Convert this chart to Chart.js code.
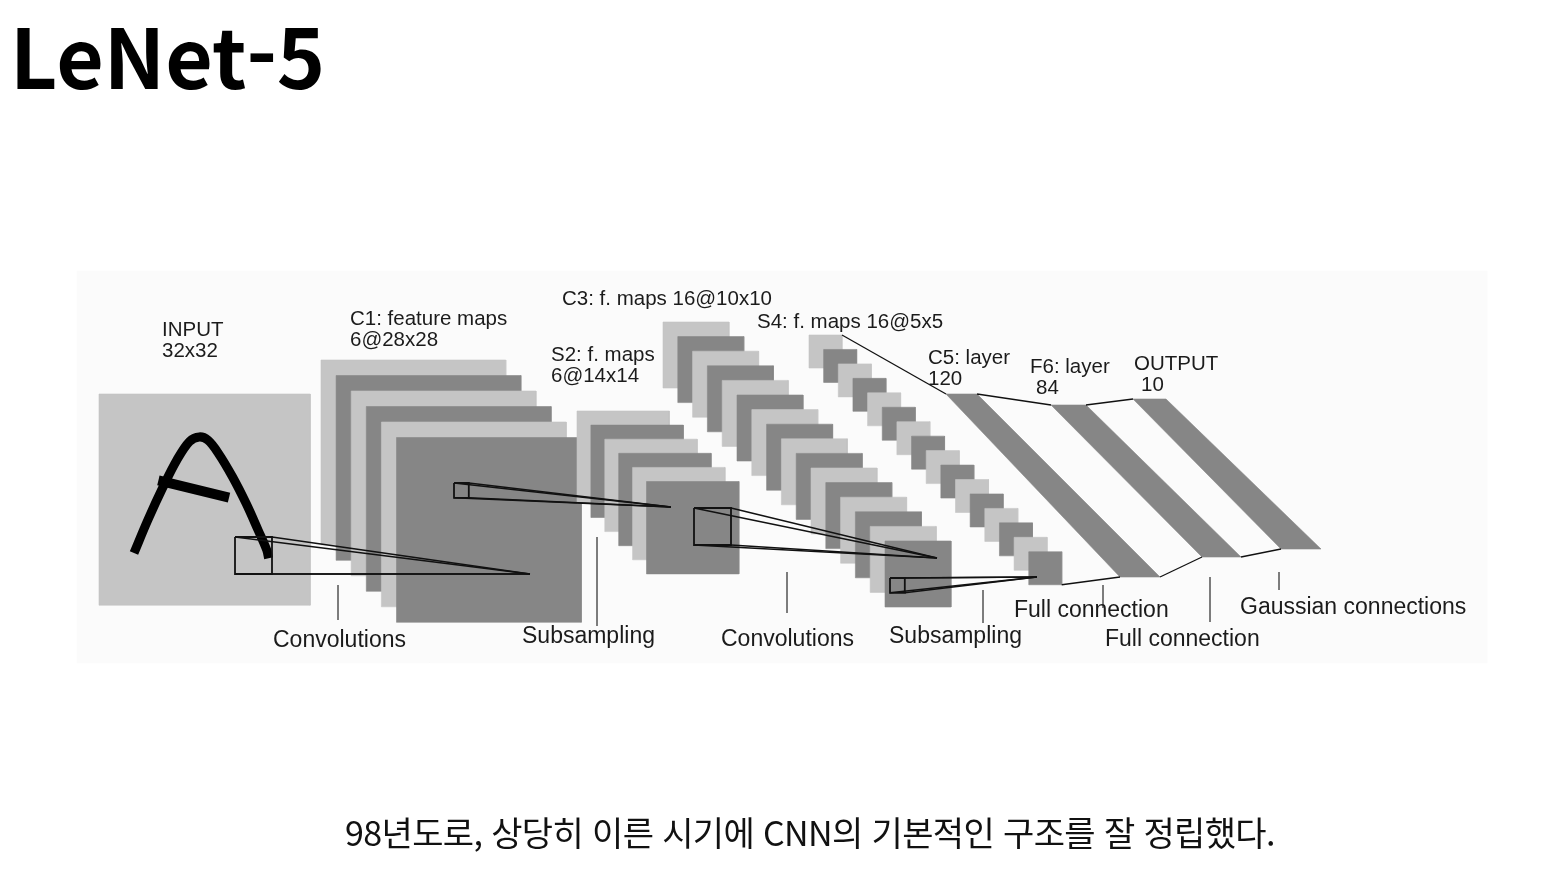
<!DOCTYPE html>
<html lang="ko">
<head>
<meta charset="UTF-8">
<meta name="viewport" content="width=device-width, initial-scale=1.0">
<title>LeNet-5</title>
<style>
    html, body { margin: 0; padding: 0; background: #fff; }
    body { width: 1566px; height: 882px; position: relative; overflow: hidden; }
    #lenet { position: absolute; left: 0; top: 0; }
    h1 { position: absolute; left: 10px; top: 13px; margin: 0; color: #000;
         font: 700 82px/82px "Noto Sans CJK KR", "Noto Sans", sans-serif; white-space: nowrap; }
    .caption { position: absolute; left: 345px; top: 815px; margin: 0; color: #111;
         font: 400 34px/34px "Noto Sans CJK KR", sans-serif; white-space: nowrap;
         font-feature-settings: "palt"; }
</style>
</head>
<body>

    <h1>LeNet-5</h1>
    <canvas id="lenet" width="1566" height="882"></canvas>
    <p class="caption" id="caption">98년도로, 상당히 이른 시기에 CNN의 기본적인 구조를 잘 정립했다.</p>

    <script src="https://cdn.jsdelivr.net/npm/chart.js@4.4.1/dist/chart.umd.min.js"></script>
    <script>

        // what the figure says
        const layerNames  = ['INPUT', 'C1: feature maps', 'S2: f. maps', 'C3: f. maps 16@10x10', 'S4: f. maps 16@5x5', 'C5: layer', 'F6: layer', 'OUTPUT'];
        const layerShapes = ['32x32', '6@28x28', '6@14x14', '', '', '120', '84', '10'];
        const mapCounts   = [1, 6, 6, 16, 16];
        const mapSides    = [32, 28, 14, 10, 5];
        const kernelSides = [5, 2, 5, 2];
        const connLabels  = ['Convolutions', 'Subsampling', 'Convolutions', 'Subsampling', 'Full connection', 'Full connection', 'Gaussian connections'];

        // the hand written "A" on the input, in input pixels (0..32)
        const strokeX = [5.3, 7.4, 9.7, 11.8, 13.7, 15.2, 16.5, 18.1, 20.2, 22.3, 24.1, 25.4, 25.7];
        const strokeY = [24.1, 19.1, 14.1, 10.0, 7.2, 6.5, 7.0, 9.0, 12.5, 16.6, 20.6, 23.6, 24.9];
        const barX = [9.0, 19.7];
        const barY = [13.1, 15.7];

        // layout (screen px, the axes run 0..1566 / 0..882)
        const PX = 6.6;    // px per feature map pixel
        const KPX = 7.4;   // px per kernel pixel
        const LIGHT = '#c5c5c5', DARK = '#868686', INK = '#111111', TICK = '#6a6a6a';
        const panel = [77, 271, 1487, 663];
        const stackOrigin = [[99, 394], [321, 360], [577, 411], [663, 322], [809, 335]];
        const stackStep   = [[0, 0], [15.1, 15.5], [13.9, 14.1], [14.8, 14.6], [14.65, 14.45]];
        const bandTop     = [[946, 977, 394], [1051, 1086, 405], [1133, 1166, 399]];
        const bandBottom  = [[1120, 1160, 577], [1202, 1241, 557], [1281, 1321, 549]];
        const fieldAt     = [[235, 537], [454, 483], [694, 508], [890, 578]];
        const fieldApex   = [[530, 574], [671, 507], [937, 558], [1037, 577]];
        const tickAt      = [[338, 585, 620], [597, 537, 626], [787, 572, 613], [983, 590, 623], [1103, 585, 608], [1210, 577, 622], [1279, 572, 590]];
        const connTextAt  = [[273, 647], [522, 643], [721, 646], [889, 643], [1014, 617], [1105, 646], [1240, 614]];
        const nameTextAt  = [[162, 336], [350, 325], [551, 361], [562, 305], [757, 328], [928, 364], [1030, 373], [1134, 370]];
        const shapeIndent = [0, 0, 0, 0, 0, 0, 6, 7];

        let datasets = [];
        function add(points, opts) {
            datasets.push(Object.assign({
                data: points.map(p => ({x: p[0], y: p[1]})),
                borderColor: INK, borderWidth: 1.5, pointRadius: 0, tension: 0,
                fill: false, clip: false, order: -datasets.length
            }, opts || {}));
        }
        function rect(x, y, w, h) { return [[x, y], [x + w, y], [x + w, y + h], [x, y + h], [x, y]]; }
        function shade(pts, color) { add(pts, {fill: 'shape', backgroundColor: color, borderColor: color, borderWidth: 0.6}); }

        // backdrop of the figure
        shade(rect(panel[0], panel[1], panel[2] - panel[0], panel[3] - panel[1]), '#fbfbfb');

        // feature map stacks, back to front
        function mapRect(l, k) {
            const s = mapSides[l] * PX;
            return [stackOrigin[l][0] + k * stackStep[l][0], stackOrigin[l][1] + k * stackStep[l][1], s];
        }
        mapCounts.forEach((n, l) => {
            for (let k = 0; k < n; k++) {
                const [x, y, s] = mapRect(l, k);
                shade(rect(x, y, s, s), (l > 0 && k % 2) ? DARK : LIGHT);
            }
            if (l === 0) {
                const [x0, y0] = stackOrigin[0];
                add(strokeX.map((v, i) => [x0 + v * PX, y0 + strokeY[i] * PX]), {borderColor: '#000', borderWidth: 9, tension: 0.35, borderCapStyle: 'butt', borderJoinStyle: 'round'});
                add(barX.map((v, i) => [x0 + v * PX, y0 + barY[i] * PX]), {borderColor: '#000', borderWidth: 10, borderCapStyle: 'butt'});
            }
        });

        // fully connected layers
        bandTop.forEach((t, i) => {
            const b = bandBottom[i];
            shade([[t[0], t[2]], [t[1], t[2]], [b[1], b[2]], [b[0], b[2]], [t[0], t[2]]], DARK);
        });

        // connectors between the last maps and the layers
        const s4 = mapCounts.length - 1;
        const [bx, by, bs] = mapRect(s4, 0);
        const [fx, fy, fs] = mapRect(s4, mapCounts[s4] - 1);
        add([[bx + bs, by], [bandTop[0][0], bandTop[0][2]]], {borderWidth: 1.3});
        add([[fx + fs, fy + fs], [bandBottom[0][0], bandBottom[0][2]]], {borderWidth: 1.3});
        for (let i = 0; i < bandTop.length - 1; i++) {
            add([[bandTop[i][1], bandTop[i][2]], [bandTop[i + 1][0], bandTop[i + 1][2]]], {borderWidth: 1.3});
            add([[bandBottom[i][1], bandBottom[i][2]], [bandBottom[i + 1][0], bandBottom[i + 1][2]]], {borderWidth: 1.3});
        }

        // receptive fields: a kernel box and its projection onto the next layer
        kernelSides.forEach((k, i) => {
            const [x, y] = fieldAt[i];
            const s = k * KPX;
            const [ax, ay] = fieldApex[i];
            [[x, y], [x + s, y], [x + s, y + s], [x, y + s]].forEach(c => add([c, [ax, ay]], {borderWidth: 1.4}));
            add(rect(x, y, s, s), {borderWidth: 1.8});
        });

        // little ticks under the connection names
        tickAt.forEach(t => add([[t[0], t[1]], [t[0], t[2]]], {borderColor: TICK, borderWidth: 1}));

        const textPlugin = {
            id: 'figureText',
            afterDatasetsDraw(chart) {
                const {ctx, scales: {x, y}} = chart;
                ctx.save();
                ctx.fillStyle = '#1b1b1b';
                ctx.textBaseline = 'alphabetic';
                ctx.font = '20.5px "Liberation Sans", Arial, sans-serif';
                layerNames.forEach((name, i) => {
                    const [tx, ty] = nameTextAt[i];
                    ctx.fillText(name, x.getPixelForValue(tx), y.getPixelForValue(ty));
                    if (layerShapes[i]) ctx.fillText(layerShapes[i], x.getPixelForValue(tx + shapeIndent[i]), y.getPixelForValue(ty + 21));
                });
                ctx.font = '23px "Liberation Sans", Arial, sans-serif';
                connLabels.forEach((c, i) => {
                    ctx.fillText(c, x.getPixelForValue(connTextAt[i][0]), y.getPixelForValue(connTextAt[i][1]));
                });
                ctx.restore();
            }
        };

        var ctx = document.getElementById('lenet').getContext('2d');
        var lenet = new Chart(ctx, {
            type: 'line',
            data: {datasets: datasets},
            options: {
                responsive: false, animation: false, events: [],
                layout: {padding: 0},
                plugins: {legend: {display: false}, tooltip: {enabled: false}},
                scales: {
                    x: {type: 'linear', min: 0, max: 1566, display: false},
                    y: {type: 'linear', min: 0, max: 882, reverse: true, display: false}
                }
            },
            plugins: [textPlugin]
        });

        // squeeze the caption onto its line width
        const cap = document.getElementById('caption');
        const spare = 930 - cap.getBoundingClientRect().width;
        cap.style.letterSpacing = (spare / cap.textContent.length).toFixed(2) + 'px';

    </script>
</body>
</html>
